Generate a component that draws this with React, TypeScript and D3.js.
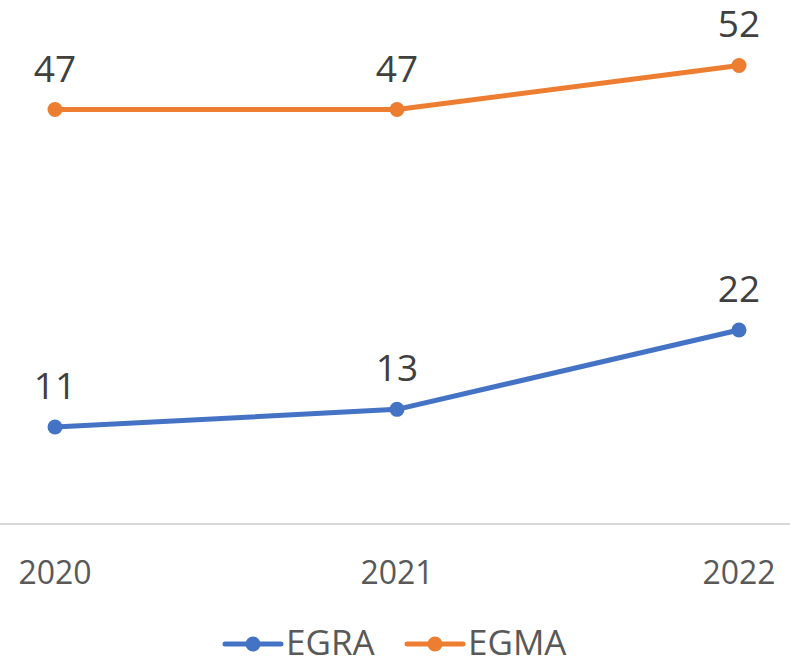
import React, { useEffect, useRef } from 'react';
import * as d3 from 'd3';

const years = ['2020', '2021', '2022'];
const egra = [11, 13, 22];
const egma = [47, 47, 52];
const seriesNames = ['EGRA', 'EGMA'];
const seriesColors = ['#4472C4', '#ED7D31'];

const W = 790;
const H = 660;
const FONT = '"Open Sans", "Noto Sans", sans-serif';

const App = () => {
    const svgRef = useRef<SVGSVGElement>(null);

    useEffect(() => {
        const svg = d3.select(svgRef.current);
        svg.selectAll('*').remove();

        const x = d3.scalePoint().domain(years).range([55, 739]);
        const y = d3.scaleLinear().domain([0, 60]).range([524, 524 - 60 * 8.818]);

        // category axis line
        svg.append('line')
            .attr('x1', 0)
            .attr('x2', W)
            .attr('y1', y(0))
            .attr('y2', y(0))
            .attr('stroke', '#d9d9d9')
            .attr('stroke-width', 2);

        // year labels
        svg.selectAll('.yr')
            .data(years)
            .enter()
            .append('text')
            .attr('class', 'yr')
            .attr('x', d => x(d) as number)
            .attr('y', 584)
            .attr('text-anchor', 'middle')
            .style('font-family', FONT)
            .style('font-size', '32px')
            .style('fill', '#595959')
            .text(d => d);

        const series = [egra, egma];
        const line = d3.line<number>()
            .x((d, i) => x(years[i]) as number)
            .y(d => y(d));

        series.forEach((vals, si) => {
            const color = seriesColors[si];
            svg.append('path')
                .datum(vals)
                .attr('fill', 'none')
                .attr('stroke', color)
                .attr('stroke-width', 5)
                .attr('stroke-linejoin', 'round')
                .attr('d', line);

            svg.selectAll(`.dot${si}`)
                .data(vals)
                .enter()
                .append('circle')
                .attr('class', `dot${si}`)
                .attr('cx', (d, i) => x(years[i]) as number)
                .attr('cy', d => y(d))
                .attr('r', 7.5)
                .attr('fill', color);

            svg.selectAll(`.lbl${si}`)
                .data(vals)
                .enter()
                .append('text')
                .attr('class', `lbl${si}`)
                .attr('x', (d, i) => x(years[i]) as number)
                .attr('y', d => y(d) - 28)
                .attr('text-anchor', 'middle')
                .style('font-family', FONT)
                .style('font-size', '37px')
                .style('fill', '#404040')
                .text(d => d);
        });

        // legend
        const legendX = [225, 407];
        seriesNames.forEach((name, si) => {
            const lg = svg.append('g').attr('transform', `translate(${legendX[si]},644)`);
            lg.append('line')
                .attr('x1', 0)
                .attr('x2', 56)
                .attr('y1', 0)
                .attr('y2', 0)
                .attr('stroke', seriesColors[si])
                .attr('stroke-width', 5)
                .attr('stroke-linecap', 'round');
            lg.append('circle')
                .attr('cx', 28)
                .attr('cy', 0)
                .attr('r', 7.5)
                .attr('fill', seriesColors[si]);
            lg.append('text')
                .attr('x', 61)
                .attr('y', 11)
                .style('font-family', FONT)
                .style('font-size', '35px')
                .style('fill', '#595959')
                .text(name);
        });
    }, []);

    return (
        <div style={{ position: 'absolute', left: 0, top: 0 }}>
            <svg ref={svgRef} width={W} height={H} style={{ display: 'block', background: '#fff' }}></svg>
        </div>
    );
};

export default App;
